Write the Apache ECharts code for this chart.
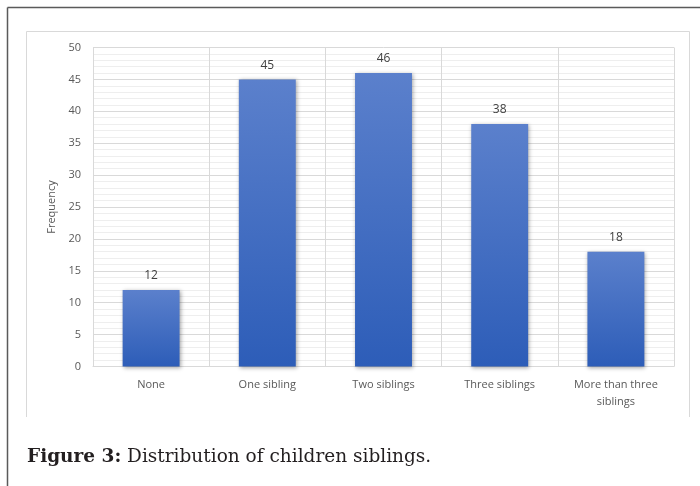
<!DOCTYPE html>
<html>
<head>
<meta charset="utf-8">
<script src="https://cdn.jsdelivr.net/npm/echarts@6/dist/echarts.min.js"></script>
<style>
  html, body { margin: 0; padding: 0; background: #ffffff; }
  #chart { width: 700px; height: 486px; }
</style>
</head>
<body>
<div id="chart"></div>
<script>
// Number of siblings per child
const categories = ['None', 'One sibling', 'Two siblings', 'Three siblings', 'More than three\nsiblings'];
const frequencies = [12, 45, 46, 38, 18];
const yTicks = { min: 0, max: 50, step: 5 };
const yAxisTitle = 'Frequency';
const captionBold = 'Figure 3:';
const captionText = ' Distribution of children siblings.';

const chart = echarts.init(document.getElementById('chart'), null, { renderer: 'canvas' });

const labelFont = '"Open Sans", "Noto Sans", sans-serif';
const captionFont = '"DejaVu Serif", "Liberation Serif", serif';

chart.setOption({
  animation: false,
  backgroundColor: '#ffffff',
  grid: { left: 93, right: 26, top: 47.5, bottom: 119.5 },
  xAxis: {
    type: 'category',
    data: categories,
    boundaryGap: true,
    axisLine: { show: true, lineStyle: { color: '#d9d9d9', width: 1 } },
    axisTick: { show: false },
    splitLine: { show: true, lineStyle: { color: '#d9d9d9', width: 1 } },
    axisLabel: {
      color: '#595959',
      fontFamily: labelFont,
      fontSize: 11,
      margin: 10,
      lineHeight: 17,
      interval: 0
    }
  },
  yAxis: {
    type: 'value',
    min: yTicks.min,
    max: yTicks.max,
    interval: yTicks.step,
    name: yAxisTitle,
    nameLocation: 'middle',
    nameGap: 31,
    nameRotate: 90,
    nameTextStyle: { color: '#595959', fontFamily: labelFont, fontSize: 11 },
    axisLine: { show: false },
    axisTick: { show: false },
    axisLabel: { color: '#595959', fontFamily: labelFont, fontSize: 11, margin: 12 },
    splitLine: { show: true, lineStyle: { color: '#d9d9d9', width: 1 } },
    minorTick: { show: false, splitNumber: 5 },
    minorSplitLine: { show: true, lineStyle: { color: '#eeeeee', width: 1 } }
  },
  series: [{
    type: 'bar',
    data: frequencies,
    barWidth: '49%',
    itemStyle: {
      color: new echarts.graphic.LinearGradient(0, 0, 0, 1, [
        { offset: 0, color: '#5b80cc' },
        { offset: 1, color: '#2d5db8' }
      ]),
      shadowColor: 'rgba(0,0,0,0.35)',
      shadowBlur: 4,
      shadowOffsetX: 1,
      shadowOffsetY: 1
    },
    label: {
      show: true,
      position: 'top',
      distance: 8,
      color: '#404040',
      fontFamily: labelFont,
      fontSize: 12
    }
  }],
  graphic: [
    // outer page frame (top and left rules)
    { type: 'line', shape: { x1: 7.5, y1: 7.5, x2: 700, y2: 7.5 }, style: { stroke: '#5a5a5a', lineWidth: 1.5 } },
    { type: 'line', shape: { x1: 7.5, y1: 7.5, x2: 7.5, y2: 486 }, style: { stroke: '#5a5a5a', lineWidth: 1.5 } },
    // chart area border
    { type: 'polyline', shape: { points: [[26.5, 417], [26.5, 31.5], [689.5, 31.5], [689.5, 417]] }, style: { stroke: '#d9d9d9', lineWidth: 1, fill: null } },
    // caption
    {
      type: 'text',
      left: 27,
      top: 448,
      style: {
        text: '{b|' + captionBold + '}{r|' + captionText + '}',
        rich: {
          b: { fontFamily: captionFont, fontWeight: 'bold', fontSize: 18.5, fill: '#231f20' },
          r: { fontFamily: captionFont, fontSize: 18.5, fill: '#231f20' }
        }
      }
    }
  ]
});
</script>
</body>
</html>
